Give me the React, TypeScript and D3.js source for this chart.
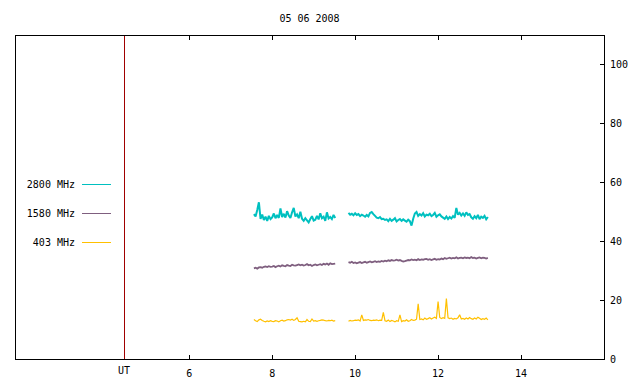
import React from "react";
import * as d3 from "d3";

// sampling: one value every 0.04 h, two recording segments
const segStarts = [7.56, 9.84];
const step = 0.04;

const cyan1 = [49.2, 48.4, 50.6, 53.2, 47.6, 49.0, 47.2, 48.3, 46.9, 48.6, 47.5, 48.1, 49.4, 47.8,
  48.9, 47.9, 51.1, 48.2, 49.3, 48.0, 50.2, 48.7, 47.9, 49.8, 51.3, 48.4, 49.1, 47.8, 50.0,
  47.6, 46.9, 47.8, 47.1, 46.4, 47.5, 48.5, 47.0, 47.3,
  48.6, 47.4, 49.5, 47.8, 48.3, 46.9, 49.8, 47.7, 48.2, 47.5, 48.9, 47.9];
const cyan2 = [49.6, 49.0, 49.3, 48.8, 49.5, 48.9, 49.2, 48.5, 49.0, 48.7, 48.3, 48.9, 48.4, 49.6, 49.9, 49.2, 48.6,
  48.0, 47.8, 48.2, 47.5, 47.6, 47.2,
  47.4, 46.8, 47.6, 46.9, 47.3, 47.8, 46.7, 47.2, 47.5, 46.9, 47.4, 47.0, 46.6, 47.3, 46.8, 45.3, 47.6,
  49.4, 49.9, 48.6, 49.2, 48.7, 49.5, 48.4, 49.0, 48.8, 49.3, 48.5, 48.9, 49.6, 48.3, 48.8, 49.1, 48.4,
  48.0, 47.6, 48.4, 47.5, 48.2, 47.7, 48.5, 47.9,
  51.3, 49.0, 49.6, 48.7, 49.4, 48.6, 49.8, 48.9, 49.2,
  48.1, 47.6, 48.5, 47.8, 48.9, 47.5, 48.3, 47.9, 48.6, 47.4, 48.2];

const purple1 = [30.8, 31.0, 30.7, 31.1, 31.2, 31.0, 31.3, 31.4, 31.2, 31.5,
  31.3, 31.4, 31.6, 31.2, 31.5, 31.7, 31.4, 31.8, 31.6, 31.5,
  31.9, 31.7, 31.6, 32.0, 31.8, 31.7, 31.9, 32.1, 31.8, 32.0,
  31.7, 31.9, 32.2, 31.8, 32.0, 31.6, 31.9, 32.1, 31.8, 32.0,
  32.2, 31.9, 32.3, 32.1, 32.4, 32.0, 32.5, 32.2, 32.3, 32.4];
const purple2 = [32.9, 32.7, 33.0, 32.6, 32.8, 32.5, 32.7, 32.9, 32.6, 32.8,
  33.0, 32.7, 32.9, 33.1, 32.8, 33.0, 33.2, 32.9, 33.1, 33.0,
  33.3, 33.1, 33.4, 33.2, 33.5, 33.3, 33.6, 33.4, 33.5, 33.7,
  33.4, 33.6, 33.3, 33.1, 33.2, 33.4, 33.6, 33.5, 33.8, 33.6,
  33.7, 33.5, 33.9, 33.6, 33.8, 33.7, 33.9, 34.0, 33.7, 33.9,
  33.6, 33.8, 34.0, 33.7, 33.9, 33.8, 34.1, 33.9, 34.3, 34.0,
  34.2, 34.4, 34.1, 34.3, 34.2, 34.5, 34.1, 34.3, 34.4, 34.2,
  34.5, 34.3, 34.4, 34.2, 34.6, 34.3, 34.4, 34.1, 34.3, 34.5,
  34.2, 34.4, 34.3, 34.1, 34.3];

const yellow1 = [13.4, 13.0, 12.7, 13.3, 13.5, 13.1, 12.8, 12.6, 12.9, 12.7,
  13.0, 12.8, 12.7, 13.0, 12.9, 12.6, 13.0, 13.2, 12.9, 13.0,
  13.3, 13.4, 13.2, 13.5, 13.1, 13.4, 14.0, 12.8, 12.7, 12.6,
  12.8, 12.6, 13.4, 12.8, 12.7, 13.6, 12.9, 13.0, 12.8, 13.0,
  13.1, 13.3, 13.2, 13.0, 12.9, 13.1, 13.0, 13.2, 12.9, 13.0];
const yellow2 = [12.8, 13.1, 12.9, 13.0, 13.2, 13.1, 13.3, 12.9, 15.0, 13.1,
  13.3, 13.2, 13.4, 13.1, 13.0, 13.2, 13.1, 13.3, 13.0, 13.2,
  13.1, 15.8, 13.0, 12.8, 13.2, 12.7, 13.1, 12.9, 12.6, 13.0,
  12.8, 15.0, 12.7, 13.0, 12.9, 13.3, 12.8, 13.0, 13.4, 13.1,
  13.2, 13.5, 18.7, 13.4, 13.6, 13.3, 13.9, 13.5, 13.7, 14.0,
  13.6, 13.9, 14.2, 13.8, 19.5, 14.1, 13.7, 14.0, 13.8, 20.5,
  14.0, 13.7, 13.9, 13.5, 13.8, 13.6, 14.0, 15.0, 13.6, 13.8,
  13.5, 13.9, 13.6, 14.1, 13.7, 13.5, 13.9, 13.6, 14.2, 13.8,
  13.4, 13.7, 13.5, 13.9, 13.3];

const series = [
  { name: "2800 MHz", color: "#00c0c0", width: 2, segs: [cyan1, cyan2] },
  { name: "1580 MHz", color: "#7f5f7f", width: 1.8, segs: [purple1, purple2] },
  { name: "403 MHz", color: "#ffc000", width: 1.2, segs: [yellow1, yellow2] },
];

const xTicks = [6, 8, 10, 12, 14];
const yTicks = [0, 20, 40, 60, 80, 100];
const markerHour = 4.43;
const title = "05 06 2008";

const W = 640, H = 384;
const L = 15, R = 604, T = 35, B = 359;
const font = "'DejaVu Sans Mono', monospace";

const App = () => {
  const x = d3.scaleLinear().domain([1.8, 16]).range([L, R]);
  const y = d3.scaleLinear().domain([0, 110]).range([B, T]);
  const line = d3.line<[number, number]>().x((d) => x(d[0])).y((d) => y(d[1]));

  return (
    <svg width={W} height={H} style={{ position: "absolute", left: 0, top: 0, background: "#fff" }}>
      <text x={(L + R) / 2} y={22} fontFamily={font} fontSize={10} textAnchor="middle">{title}</text>

      {series.map((s) =>
        s.segs.map((vals, k) => (
          <path key={s.name + k} d={line(vals.map((v, i) => [segStarts[k] + i * step, v]) as [number, number][]) || ""}
            fill="none" stroke={s.color} strokeWidth={s.width} strokeLinejoin="miter" strokeMiterlimit={2} />
        ))
      )}

      <line x1={Math.round(x(markerHour)) + 0.5} x2={Math.round(x(markerHour)) + 0.5} y1={T} y2={B} stroke="#a00000" strokeWidth={1} />

      <rect x={L + 0.5} y={T + 0.5} width={R - L} height={B - T} fill="none" stroke="#000" strokeWidth={1} />

      {xTicks.map((t) => (
        <g key={t}>
          <line x1={Math.round(x(t)) + 0.5} x2={Math.round(x(t)) + 0.5} y1={B + 0.5} y2={B - 4} stroke="#000" />
          <line x1={Math.round(x(t)) + 0.5} x2={Math.round(x(t)) + 0.5} y1={T + 0.5} y2={T + 5} stroke="#000" />
          <text x={x(t)} y={377} fontFamily={font} fontSize={10} textAnchor="middle">{t}</text>
        </g>
      ))}
      <text x={x(markerHour)} y={374} fontFamily={font} fontSize={10} textAnchor="middle">UT</text>

      {yTicks.map((t) => (
        <g key={t}>
          <line x1={R + 0.5} x2={R - 4} y1={Math.round(y(t)) + 0.5} y2={Math.round(y(t)) + 0.5} stroke="#000" />
          <text x={610} y={y(t) + 4} fontFamily={font} fontSize={10}>{t}</text>
        </g>
      ))}

      {series.map((s, i) => (
        <g key={s.name}>
          <text x={75} y={184 + i * 29 + 4} fontFamily={font} fontSize={10} textAnchor="end">{s.name}</text>
          <line x1={82} x2={111} y1={184.5 + i * 29} y2={184.5 + i * 29} stroke={s.color} strokeWidth={1} />
        </g>
      ))}
    </svg>
  );
};

export default App;
